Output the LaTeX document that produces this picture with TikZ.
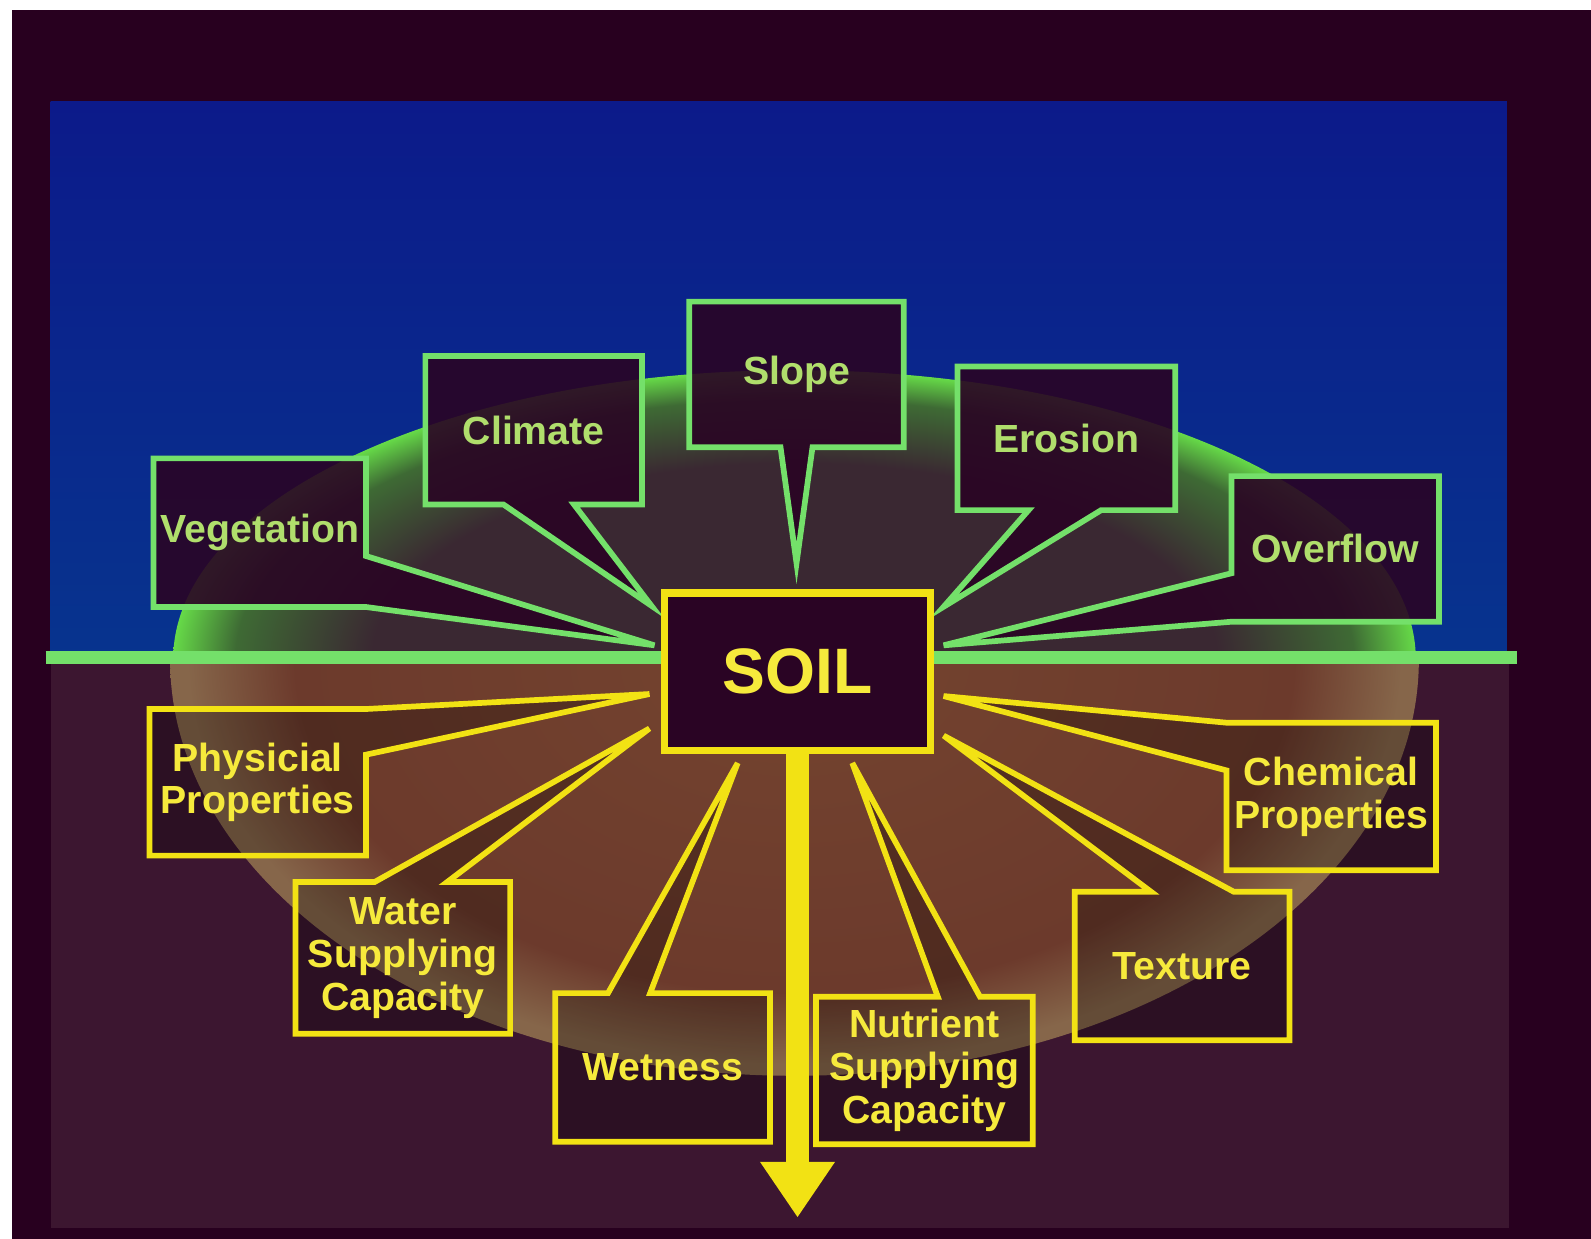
\documentclass[tikz,border=0pt]{standalone}
\usepackage{fontspec}
\setmainfont{Liberation Sans}
\usetikzlibrary{calc,positioning,arrows.meta}

\definecolor{frame}{HTML}{28001F}
\definecolor{skytop}{HTML}{0C1A8A}
\definecolor{skybot}{HTML}{07348E}
\definecolor{ground}{HTML}{3C1630}
\definecolor{domein}{HTML}{3A2832}
\definecolor{domemid}{HTML}{3E6A34}
\definecolor{domerim}{HTML}{66DA48}
\definecolor{glowin}{HTML}{6C3A2C}
\definecolor{glowmid}{HTML}{74442F}
\definecolor{glowrim}{HTML}{86664A}
\definecolor{gline}{HTML}{74E06A}
\definecolor{gtext}{HTML}{B0DE6C}
\definecolor{yline}{HTML}{F2E214}
\definecolor{ytext}{HTML}{F6EA3C}
\definecolor{boxdark}{HTML}{2A0424}

% path bounding box maps onto the inner 25bp circle
\pgfdeclareradialshading{domeshade}{\pgfpointorigin}{color(0bp)=(domein); color(17bp)=(domein); color(22.5bp)=(domemid); color(25bp)=(domerim); color(50bp)=(domerim)}
\pgfdeclareradialshading{glowshade}{\pgfpointorigin}{color(0bp)=(glowmid); color(20bp)=(glowin); color(24.3bp)=(glowrim); color(25bp)=(glowrim); color(50bp)=(glowrim)}

\pgfdeclarelayer{backdrop}
\pgfdeclarelayer{callouts}
\pgfsetlayers{backdrop,callouts,main}

\begin{document}
\begin{tikzpicture}[
    x=0.01cm, y=-0.01cm,
    gbox/.style={rectangle, minimum width=2.1cm, minimum height=1.44cm, inner sep=0pt, align=center, text=gtext, font=\fontsize{11}{12}\selectfont\bfseries},
    ybox/.style={gbox, text=ytext},
    gcall/.style={draw=gline, line width=1.6pt, fill=boxdark, fill opacity=0.9},
    ycall/.style={draw=yline, line width=1.6pt, fill=black, fill opacity=0.25},
    soilbox/.style={rectangle, draw=yline, line width=2pt, fill=boxdark, minimum width=2.62cm, minimum height=1.55cm, text=ytext, font=\fontsize{18}{20}\selectfont\bfseries},
    sinkarrow/.style={yline, line width=0.23cm, -{Triangle[width=0.7cm, length=0.55cm]}}
]
    \useasboundingbox (0,0) rectangle (1568,1221);

    % Backdrop: sky, ground, dome
    \begin{pgfonlayer}{backdrop}
        \fill[white] (0,0) rectangle (1568,1221);
        \fill[frame] (12,10) rectangle (1568,1221);
        \shade[top color=skytop, bottom color=skybot] (50,100) rectangle (1485,650);
        \fill[ground] (50,650) rectangle (1487,1210);
        \begin{scope}
            \clip (0,0) rectangle (1568,650);
            \shade[shading=domeshade] (783,650) ellipse [x radius=6.12cm, y radius=2.85cm];
        \end{scope}
        \begin{scope}
            \clip (0,650) rectangle (1568,1221);
            \shade[shading=glowshade] (783,650) ellipse [x radius=6.15cm, y radius=4.1cm];
        \end{scope}
        \draw[gline, line width=0.12cm] (45,648) -- (1495,648);
    \end{pgfonlayer}

    % Soil
    \node[soilbox] (soil) at (786,662) {SOIL};
    \coordinate (sink) at (786,1200);

    % Above ground
    \node[gbox, minimum width=2.08cm, minimum height=1.45cm] (veg) at (256,525) {Vegetation};
    \node[gbox, minimum width=2.12cm, minimum height=1.45cm] (clim) at (526,424) {Climate};
    \node[gbox, minimum width=2.1cm, minimum height=1.42cm] (slope) at (785,369) {Slope};
    \node[gbox, minimum width=2.13cm, minimum height=1.4cm] (eros) at (1051,432) {Erosion};
    \node[gbox, minimum width=2.03cm, minimum height=1.42cm] (over) at (1316,541) {Overflow};

    % Below ground
    \node[ybox, minimum width=2.12cm, minimum height=1.43cm] (phys) at (254,771) {Physicial\\Properties};
    \node[ybox, minimum width=2.1cm, minimum height=1.48cm] (water) at (397,944) {Water\\Supplying\\Capacity};
    \node[ybox, minimum width=2.1cm, minimum height=1.45cm] (wet) at (653,1052) {Wetness};
    \node[ybox, minimum width=2.12cm, minimum height=1.44cm] (nutr) at (911,1055) {Nutrient\\Supplying\\Capacity};
    \node[ybox, minimum width=2.1cm, minimum height=1.45cm] (textr) at (1165,952) {Texture};
    \node[ybox, minimum width=2.05cm, minimum height=1.44cm] (chem) at (1312,785) {Chemical\\Properties};

    % Pointer tips at the soil box
    \coordinate (tveg) at (645,636);
    \coordinate (tclim) at (642,597);
    \coordinate (tslope) at (785,555);
    \coordinate (teros) at (930,598);
    \coordinate (tover) at (930,636);
    \coordinate (tphys) at (640,684);
    \coordinate (twater) at (640,718);
    \coordinate (twet) at (727,752);
    \coordinate (tnutr) at (840,752);
    \coordinate (ttextr) at (930,725);
    \coordinate (tchem) at (930,686);

    % Callout outlines
    \begin{pgfonlayer}{callouts}
        \path[gcall] (veg.north west) -- (veg.north east) -- ($(veg.east)+(0,23)$) -- (tveg) -- (veg.south east) -- (veg.south west) -- cycle;
        \path[gcall] (clim.north west) -- (clim.north east) -- (clim.south east) -- ($(clim.south east)+(-67,0)$) -- (tclim) -- ($(clim.south west)+(77,0)$) -- (clim.south west) -- cycle;
        \path[gcall] (slope.north west) -- (slope.north east) -- (slope.south east) -- ($(slope.south east)+(-90,0)$) -- (tslope) -- ($(slope.south west)+(90,0)$) -- (slope.south west) -- cycle;
        \path[gcall] (eros.north west) -- (eros.north east) -- (eros.south east) -- ($(eros.south east)+(-73,0)$) -- (teros) -- ($(eros.south west)+(70,0)$) -- (eros.south west) -- cycle;
        \path[gcall] (over.north west) -- (over.north east) -- (over.south east) -- (over.south west) -- (tover) -- ($(over.west)+(0,24)$) -- cycle;

        \path[ycall] (phys.north west) -- (phys.north east) -- (tphys) -- ($(phys.north east)+(0,45)$) -- (phys.south east) -- (phys.south west) -- cycle;
        \path[ycall] (water.north west) -- ($(water.north west)+(78,0)$) -- (twater) -- ($(water.north east)+(-62,0)$) -- (water.north east) -- (water.south east) -- (water.south west) -- cycle;
        \path[ycall] (wet.north west) -- ($(wet.north west)+(52,0)$) -- (twet) -- ($(wet.north east)+(-118,0)$) -- (wet.north east) -- (wet.south east) -- (wet.south west) -- cycle;
        \path[ycall] (nutr.north west) -- ($(nutr.north west)+(120,0)$) -- (tnutr) -- ($(nutr.north east)+(-52,0)$) -- (nutr.north east) -- (nutr.south east) -- (nutr.south west) -- cycle;
        \path[ycall] (textr.north west) -- ($(textr.north west)+(75,0)$) -- (ttextr) -- ($(textr.north east)+(-55,0)$) -- (textr.north east) -- (textr.south east) -- (textr.south west) -- cycle;
        \path[ycall] (chem.north west) -- (chem.north east) -- (chem.south east) -- (chem.south west) -- ($(chem.north west)+(0,47)$) -- (tchem) -- cycle;
    \end{pgfonlayer}

    % Arrow down
    \draw[sinkarrow] (soil.south) -- (sink);
\end{tikzpicture}
\end{document}
